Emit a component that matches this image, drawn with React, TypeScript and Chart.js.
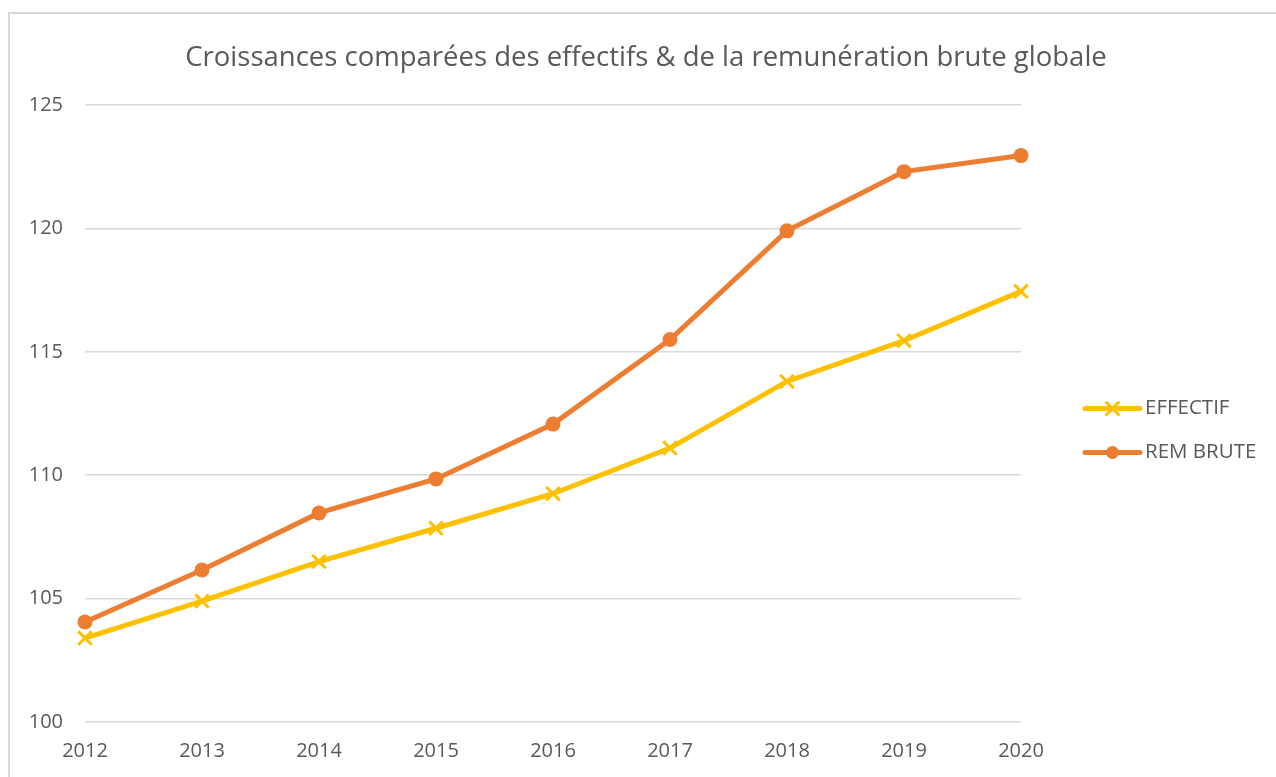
import { useEffect, useRef } from "react";
import { Chart, registerables } from "chart.js";

Chart.register(...registerables);

const years = ["2012", "2013", "2014", "2015", "2016", "2017", "2018", "2019", "2020"];
const effectif = [103.4, 104.9, 106.5, 107.85, 109.25, 111.1, 113.8, 115.45, 117.45];
const remBrute = [104.05, 106.16, 108.47, 109.85, 112.07, 115.5, 119.9, 122.3, 122.95];
const yMin = 100;
const yMax = 125;
const yStep = 5;
const titleText = "Croissances comparées des effectifs & de la remunération brute globale";

const YELLOW = "#FFC000";
const ORANGE = "#ED7D31";
const TEXT = "#595959";
const GRID = "#D9D9D9";
const FONT = "'Open Sans', 'Noto Sans', sans-serif";

const decorPlugin = {
  id: "decor",
  afterDraw(chart: any) {
    const { ctx, chartArea } = chart;
    ctx.save();
    // title
    ctx.fillStyle = TEXT;
    ctx.font = `27.5px ${FONT}`;
    ctx.textAlign = "center";
    ctx.textBaseline = "middle";
    ctx.fillText(titleText, chart.width / 2 + 8, chartArea.top - 47);
    // legend
    const x0 = chartArea.right + 64;
    const yc = (chartArea.top + chartArea.bottom) / 2 + 17;
    chart.data.datasets.forEach((ds: any, i: number) => {
      const y = yc + (i === 0 ? -22 : 22);
      ctx.strokeStyle = ds.borderColor;
      ctx.lineWidth = ds.borderWidth;
      ctx.lineCap = "round";
      ctx.beginPath();
      ctx.moveTo(x0, y);
      ctx.lineTo(x0 + 55, y);
      ctx.stroke();
      const mx = x0 + 27.5;
      if (ds.pointStyle === "crossRot") {
        ctx.lineWidth = ds.pointBorderWidth;
        ctx.strokeStyle = ds.pointBorderColor;
        const r = 6;
        ctx.beginPath();
        ctx.moveTo(mx - r, y - r);
        ctx.lineTo(mx + r, y + r);
        ctx.moveTo(mx + r, y - r);
        ctx.lineTo(mx - r, y + r);
        ctx.stroke();
      } else {
        ctx.fillStyle = ds.pointBackgroundColor;
        ctx.beginPath();
        ctx.arc(mx, y, 6.5, 0, Math.PI * 2);
        ctx.fill();
      }
      ctx.fillStyle = TEXT;
      ctx.font = `20.5px ${FONT}`;
      ctx.textAlign = "left";
      ctx.textBaseline = "middle";
      ctx.fillText(ds.label, x0 + 60, y);
    });
    ctx.restore();
  },
};

export default function App() {
  const ref = useRef<HTMLCanvasElement | null>(null);
  useEffect(() => {
    if (!ref.current) return;
    const chart = new Chart(ref.current, {
      type: "line",
      data: {
        labels: years,
        datasets: [
          {
            label: "EFFECTIF",
            data: effectif,
            borderColor: YELLOW,
            backgroundColor: YELLOW,
            borderWidth: 5,
            pointStyle: "crossRot",
            pointRadius: 9.5,
            pointBorderWidth: 3,
            pointBorderColor: YELLOW,
            pointBackgroundColor: YELLOW,
            tension: 0,
            clip: false as any,
          },
          {
            label: "REM BRUTE",
            data: remBrute,
            borderColor: ORANGE,
            backgroundColor: ORANGE,
            borderWidth: 5,
            pointStyle: "circle",
            pointRadius: 7.5,
            pointBorderWidth: 0,
            pointBorderColor: ORANGE,
            pointBackgroundColor: ORANGE,
            tension: 0,
            clip: false as any,
          },
        ],
      },
      options: {
        responsive: false,
        animation: false,
        devicePixelRatio: 1,
        layout: { padding: { left: 10, top: 105, right: 255, bottom: 0 } },
        plugins: {
          legend: { display: false },
          title: { display: false },
          tooltip: { enabled: false },
        },
        scales: {
          x: {
            type: "category",
            offset: false,
            grid: { display: false, drawTicks: false },
            border: { display: false },
            ticks: { color: TEXT, font: { family: FONT, size: 20 }, padding: 17, maxRotation: 0 },
            afterFit: (s: any) => {
              s.height = 55;
            },
          },
          y: {
            min: yMin,
            max: yMax,
            grid: { color: GRID, lineWidth: 1.5, drawTicks: false },
            border: { display: false },
            ticks: { stepSize: yStep, color: TEXT, font: { family: FONT, size: 20 }, padding: 22 },
            afterFit: (s: any) => {
              s.width = 75;
            },
          },
        },
      },
      plugins: [decorPlugin],
    });
    return () => chart.destroy();
  }, []);
  return (
    <div style={{ position: "fixed", left: 0, top: 0, width: 1276, height: 777, overflow: "hidden", background: "#fff" }}>
      <div
        style={{
          position: "absolute",
          left: 8,
          top: 12,
          width: 1300,
          height: 800,
          border: "2px solid #D9D9D9",
        }}
      />
      <canvas ref={ref} width={1276} height={777} style={{ position: "absolute", left: 0, top: 0, width: 1276, height: 777 }} />
    </div>
  );
}
